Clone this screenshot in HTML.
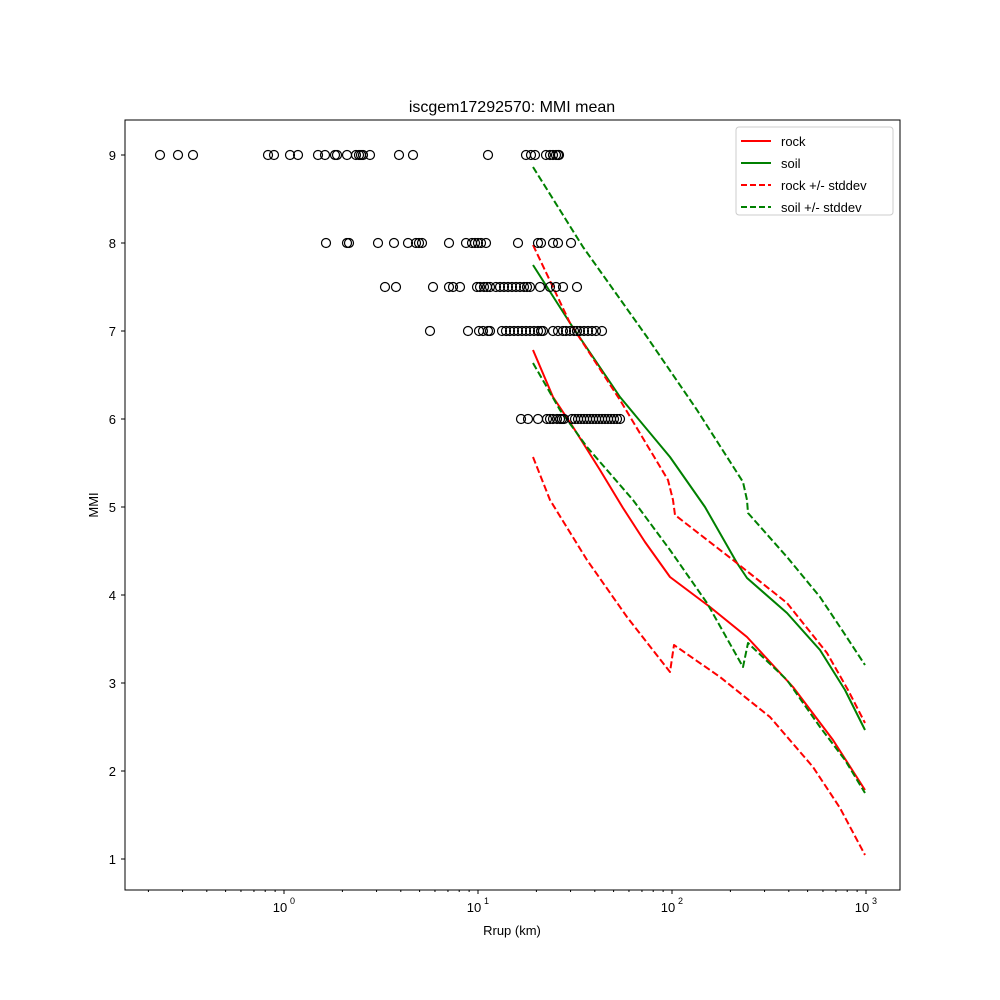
<!DOCTYPE html>
<html><head><style>body{margin:0;background:#fff}svg{display:block}text{font-family:"Liberation Sans","DejaVu Sans",sans-serif}</style></head>
<body>
<svg id="s" width="1000" height="1000" xmlns="http://www.w3.org/2000/svg">
<rect width="1000" height="1000" fill="#fff"/>
<text x="512" y="112" font-size="16" text-anchor="middle">iscgem17292570: MMI mean</text>
<text x="512" y="935" font-size="13" text-anchor="middle">Rrup (km)</text>
<text x="98" y="505" font-size="13" text-anchor="middle" transform="rotate(-90 98 505)">MMI</text>
<g id="g"></g>
<rect x="125" y="120" width="775" height="770" fill="none" stroke="#000" stroke-width="1"/>
<g>
<rect x="736" y="127" width="157" height="88" fill="#fff" stroke="#ccc" rx="3"/>
<line x1="741" y1="141" x2="771" y2="141" stroke="red" stroke-width="2"/><text x="781" y="146" font-size="13">rock</text>
<line x1="741" y1="163" x2="771" y2="163" stroke="green" stroke-width="2"/><text x="781" y="168" font-size="13">soil</text>
<line x1="741" y1="185" x2="771" y2="185" stroke="red" stroke-width="2" stroke-dasharray="6,3"/><text x="781" y="190" font-size="13">rock +/- stddev</text>
<line x1="741" y1="207" x2="771" y2="207" stroke="green" stroke-width="2" stroke-dasharray="6,3"/><text x="781" y="212" font-size="13">soil +/- stddev</text>
</g>
</svg>
<script>
const g=document.getElementById('g');let h='';
const X=v=>284+194*Math.log10(v);
for(let i=1;i<=9;i++){const y=859-(i-1)*88;h+=`<line x1="125" y1="${y}" x2="121" y2="${y}" stroke="#000"/><text x="116" y="${y+5}" font-size="13" text-anchor="end">${i}</text>`;}
for(let e=-1;e<=3;e++){for(let m=1;m<=9;m++){const v=m*Math.pow(10,e);const x=X(v);if(x<125||x>900)continue;
if(m==1){h+=`<line x1="${x}" y1="890" x2="${x}" y2="894" stroke="#000"/><text x="${x-4}" y="912" font-size="13" text-anchor="middle">10</text><text x="${x+6}" y="904" font-size="9">${e}</text>`;}
else h+=`<line x1="${x}" y1="890" x2="${x}" y2="892" stroke="#000"/>`;}}
const pl=(p,c,d)=>`<polyline points="${p}" fill="none" stroke="${c}" stroke-width="2" stroke-linejoin="round" ${d?'stroke-dasharray="7,3"':''}/>`;
h+=pl("533,350 553,397 573,427 600,470 623,508 645,542 670,577 710,607 747,637 793,687 833,740 865,790","red");
h+=pl("533,265 570,323 620,397 670,457 705,507 737,563 747,578 787,613 820,650 845,690 865,730","green");
h+=pl("533,245 570,323 620,400 668,480 673,500 675,515 733,560 787,603 827,653 848,690 865,723","red",1);
h+=pl("533,457 550,500 587,560 627,617 670,672 674,645 720,677 770,717 813,767 840,808 865,855","red",1);
h+=pl("533,167 583,247 647,337 697,410 743,482 747,500 748,513 787,557 820,597 840,627 865,665","green",1);
h+=pl("533,363 560,410 587,447 633,500 670,550 707,603 743,667 748,643 787,680 820,727 845,760 865,793","green",1);
const rows={155:[160,178,193,268,274,290,298,318,325,335,337,347,356,359,361,363,370,399,413,488,526,531,535,546,550,553,556,558,559],
243:[326,347,349,378,394,408,416,419,422,449,466,472,475,478,481,486,518,538,541,553,558,571],
287:[385,396,433,449,453,460,477,480,484,487,490,496,500,504,508,512,516,520,524,527,530,540,550,556,563,577],
331:[430,468,479,483,488,490,502,506,510,514,518,522,526,530,534,538,541,543,553,558,563,566,570,574,577,580,584,588,592,596,602],
419:[521,528,538,547,550,553,557,560,562,564,572,575,578,581,584,587,590,593,596,599,602,605,608,611,614,617,620]};
for(const y in rows)for(const x of rows[y])h+=`<circle cx="${x}" cy="${y}" r="4.5" fill="none" stroke="#000" stroke-width="1.2"/>`;
g.innerHTML=h;
</script>
</body></html>
